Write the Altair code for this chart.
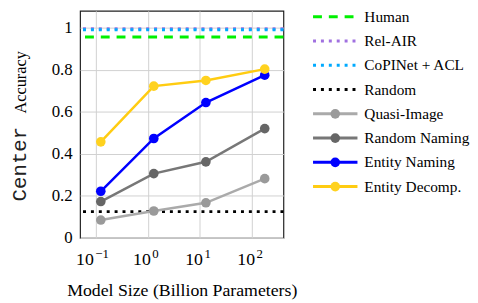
import altair as alt
import pandas as pd

# ---------------- data ----------------
model_sizes = [0.125, 1.3, 13, 175]
quasi_image = [0.085, 0.128, 0.167, 0.282]
random_naming = [0.173, 0.306, 0.362, 0.520]
entity_naming = [0.222, 0.473, 0.644, 0.774]
entity_decomp = [0.457, 0.722, 0.749, 0.803]

ref_names = ["Human", "Rel-AIR", "CoPINet + ACL", "Random"]
ref_values = [0.956, 0.995, 0.990, 0.125]

model_names = ["Quasi-Image", "Random Naming", "Entity Naming", "Entity Decomp."]
x_ticks = [0.1, 1, 10, 100]
x_tick_base = ["10", "10", "10", "10"]
x_tick_exp = ["−1", "0", "1", "2"]
y_ticks = [0, 0.2, 0.4, 0.6, 0.8, 1.0]

all_names = ref_names + model_names
line_colors = ["#00f000", "#a070e0", "#00aaff", "#000000",
               "#aaaaaa", "#777777", "#0000ff", "#ffcc11"]
marker_colors = ["#00f000", "#a070e0", "#00aaff", "#000000",
                 "#9a9a9a", "#666666", "#0000ff", "#ffd21f"]
dashes = [[9, 7], [3, 5], [3, 5], [3, 5], [1, 0], [1, 0], [1, 0], [1, 0]]

# ---------------- tables ----------------
series = [quasi_image, random_naming, entity_naming, entity_decomp]
rows = []
for name, vals in zip(model_names, series):
    for s, v in zip(model_sizes, vals):
        rows.append({"name": name, "size": s, "acc": v})
df_models = pd.DataFrame(rows)
df_ref = pd.DataFrame({"name": ref_names, "acc": ref_values})
df_leg = pd.DataFrame({"name": all_names, "i": list(range(len(all_names))),
                       "marker": [False] * 4 + [True] * 4})
df_ticks = pd.DataFrame({"size": x_ticks, "base": x_tick_base, "exp": x_tick_exp})

serif = "Liberation Serif"
mono = "Liberation Mono"

color_scale = alt.Scale(domain=all_names, range=line_colors)
fill_scale = alt.Scale(domain=all_names, range=marker_colors)
dash_scale = alt.Scale(domain=all_names, range=dashes)

xs = alt.Scale(type="log", domain=[0.05, 400], nice=False)
ys = alt.Scale(domain=[0, 1.08], nice=False)

H = 230

x_enc = alt.X("size:Q", scale=xs,
              axis=alt.Axis(values=x_ticks, labels=False,
                            title="Model Size (Billion Parameters)",
                            grid=True, tickSize=0, domain=False,
                            titleFont=serif, titleFontSize=18, titleFontWeight="normal",
                            titleColor="black", titlePadding=44,
                            gridColor="#d0d0d0"))
y_enc = alt.Y("acc:Q", scale=ys,
              axis=alt.Axis(values=y_ticks,
                            labelExpr="datum.value == 0 ? '0' : datum.value == 1 ? '1' : format(datum.value, '.1f')",
                            title=None, grid=True, tickSize=0, domain=False,
                            labelFont=serif, labelFontSize=17, labelColor="black",
                            labelPadding=8, gridColor="#d0d0d0"))

lines = alt.Chart(df_models).mark_line(strokeWidth=2.5).encode(
    x=x_enc, y=y_enc,
    color=alt.Color("name:N", scale=color_scale, legend=None),
    detail="name:N",
)
points = alt.Chart(df_models).mark_circle(size=95, opacity=1).encode(
    x=alt.X("size:Q", scale=xs), y=alt.Y("acc:Q", scale=ys),
    fill=alt.Fill("name:N", scale=fill_scale, legend=None),
)
refs = alt.Chart(df_ref).mark_rule(strokeWidth=3, strokeCap="butt").encode(
    y=alt.Y("acc:Q", scale=ys),
    color=alt.Color("name:N", scale=color_scale, legend=None),
    strokeDash=alt.StrokeDash("name:N", scale=dash_scale, legend=None),
)

# x tick labels: "10" with a superscript exponent
tick_layers = []
for k in range(len(x_ticks)):
    neg = x_tick_exp[k].startswith("−")
    base_dx = -2 if neg else 3
    sub = df_ticks.iloc[[k]]
    tick_layers.append(
        alt.Chart(sub).mark_text(align="right", baseline="alphabetic", font=serif,
                                 fontSize=18, color="black", dx=base_dx).encode(
            x=alt.X("size:Q", scale=xs), y=alt.value(H + 27), text="base:N"))
    tick_layers.append(
        alt.Chart(sub).mark_text(align="left", baseline="alphabetic", font=serif,
                                 fontSize=13, color="black", dx=base_dx + 1.5).encode(
            x=alt.X("size:Q", scale=xs), y=alt.value(H + 20), text="exp:N"))

ytitle_a = alt.Chart(pd.DataFrame({"t": ["Accuracy"]})).mark_text(
    angle=270, align="left", baseline="alphabetic", font=serif, fontSize=16.5, color="black"
).encode(x=alt.value(-55), y=alt.value(104), text="t:N")
ytitle_c = alt.Chart(pd.DataFrame({"t": ["Center"]})).mark_text(
    angle=270, align="left", baseline="alphabetic", font=mono, fontSize=21, color="#222222"
).encode(x=alt.value(-55), y=alt.value(193), text="t:N")

main = alt.layer(refs, lines, points, *tick_layers, ytitle_a, ytitle_c)

leg_y = alt.Y("i:Q", scale=alt.Scale(domain=[0, 7], range=[6, 178]), axis=None)
leg_lines = alt.Chart(df_leg).mark_rule(strokeWidth=3, strokeCap="butt").encode(
    x=alt.value(236), x2=alt.value(281), y=leg_y,
    color=alt.Color("name:N", scale=color_scale, legend=None),
    strokeDash=alt.StrokeDash("name:N", scale=dash_scale, legend=None),
)
leg_marks = alt.Chart(df_leg).transform_filter("datum.marker").mark_circle(size=95, opacity=1).encode(
    x=alt.value(258.5), y=leg_y,
    fill=alt.Fill("name:N", scale=fill_scale, legend=None),
)
leg_text = alt.Chart(df_leg).mark_text(align="left", baseline="middle", font=serif,
                                       fontSize=15.5, color="black").encode(
    x=alt.value(288), y=leg_y, text="name:N",
)
legend = alt.layer(leg_lines, leg_marks, leg_text)

chart = alt.layer(main, legend).resolve_scale(y="independent").properties(
    width=206, height=H, background="white",
    padding={"left": 1, "top": 0, "right": 0, "bottom": 0},
).configure_view(stroke="#222222", strokeWidth=1.2)

chart.save("out.html", embed_options={"renderer": "svg", "actions": False})
